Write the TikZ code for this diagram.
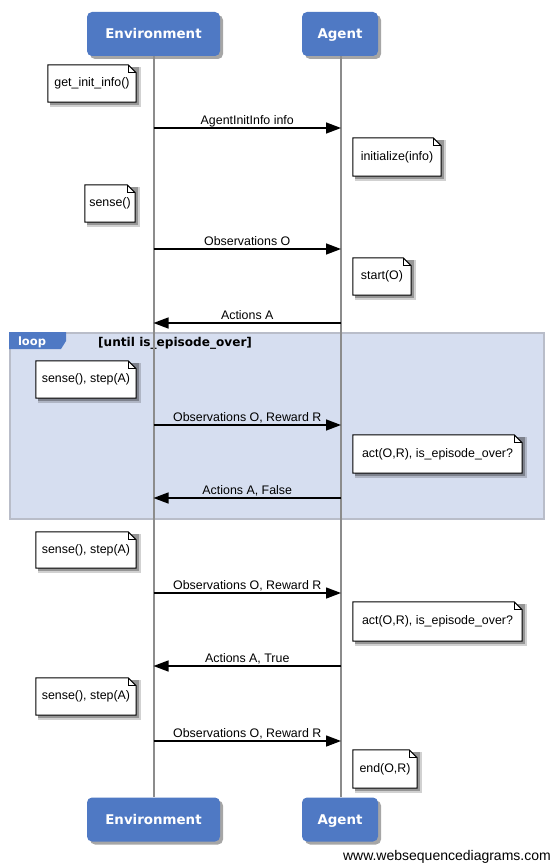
\documentclass[tikz,border=0pt]{standalone}
\usepackage{fontspec}
\setmainfont{Liberation Sans}
\newfontfamily\actorfont{DejaVu Sans}
\usetikzlibrary{arrows.meta,shadows}
\definecolor{actorblue}{HTML}{4F79C4}
\definecolor{loopfill}{HTML}{D6DEF0}
\definecolor{loopline}{HTML}{B9BDC9}
\definecolor{lifegray}{HTML}{8C8C8C}
\pgfdeclarelayer{frame}
\pgfdeclarelayer{shade}
\pgfdeclarelayer{paper}
\pgfsetlayers{frame,shade,paper,main}
\newcommand{\wsdnote}[6]{%
  \node[notebox, minimum width={#4-#2}, minimum height={#5-#3}] (#1) at ({(#2+#4)/2},{(#3+#5)/2}) {#6};
  \begin{pgfonlayer}{shade}
  \fill[black, opacity=0.18] ([xshift=2pt,yshift=-2pt]#1.north west) rectangle ([xshift=4.5pt,yshift=-4.5pt]#1.south east);
  \fill[black, opacity=0.28] ([xshift=2pt,yshift=-2pt]#1.north west) rectangle ([xshift=3pt,yshift=-3pt]#1.south east);
  \end{pgfonlayer}
  \begin{pgfonlayer}{paper}
  \draw[line width=1pt, fill=white] (#1.north west) -- ([xshift=-8pt]#1.north east) -- ([yshift=-8pt]#1.north east) -- (#1.south east) -- (#1.south west) -- cycle;
  \draw[line width=0.8pt] ([xshift=-8pt]#1.north east) -- ([xshift=-8pt,yshift=-8pt]#1.north east) -- ([yshift=-8pt]#1.north east);
  \end{pgfonlayer}
}
\begin{document}
\begin{tikzpicture}[x=1pt,y=-1pt,
  actor/.style={fill=actorblue, rounded corners=5pt, text=white,
    font=\actorfont\bfseries\fontsize{13.4}{15}\selectfont, minimum height=44pt, inner sep=0pt,
    text height=10pt, text depth=0pt,
    drop shadow={shadow xshift=3pt, shadow yshift=-3pt, opacity=0.35, fill=black}},
  notebox/.style={inner sep=0pt, font=\fontsize{12.4}{14}\selectfont},
  msg/.style={line width=1.4pt, -{Triangle[length=15pt,width=11pt]}},
  lbl/.style={anchor=base, yshift=3.5pt, inner sep=0pt, font=\fontsize{12.4}{14}\selectfont},
  life/.style={draw=lifegray, line width=2pt}]
\useasboundingbox (0,0) rectangle (553,864);

% loop frame
\begin{pgfonlayer}{frame}
\fill[white] (0,0) rectangle (553,864);
\node[draw=loopline, fill=loopfill, line width=2pt, minimum width=534pt, minimum height=186pt, inner sep=0pt] (loop) at (277,426) {};
\fill[actorblue] (loop.north west) -- ++(57,0) -- ++(0,9) -- ++(-5,8) -- ++(-52,0) -- cycle;
\end{pgfonlayer}
\node[text=white, font=\actorfont\bfseries\fontsize{11.5}{13}\selectfont, inner sep=0pt] (looplbl) at (32,342.5) {loop};
\node[font=\actorfont\bfseries\fontsize{12.1}{14}\selectfont, inner sep=0pt, anchor=west] (cond) at (98,343) {[until is\_episode\_over]};

% actors
\node[actor, minimum width=133pt] (envtop) at (153.5,34) {Environment};
\node[actor, minimum width=76pt] (agtop) at (340,34) {Agent};
\node[actor, minimum width=133pt] (envbot) at (153.5,819.5) {Environment};
\node[actor, minimum width=76pt] (agbot) at (340,819.5) {Agent};

% lifelines
\draw[life] (envtop.south) -- (envbot.north);
\draw[life] (agtop.south -| 341,0) -- (agbot.north -| 341,0);

% coordinates on lifelines
\foreach \n/\y in {1/128,2/249,3/323,4/425,5/498,6/593,7/666,8/741}{
  \coordinate (e\n) at (153.5,\y);
  \coordinate (a\n) at (341,\y);
}

% notes and messages
\wsdnote{n1}{48}{65}{136}{102}{get\_init\_info()}
\draw[msg] (e1) -- node[lbl]{AgentInitInfo info} (a1);
\wsdnote{n2}{353}{138}{441}{176}{initialize(info)}
\wsdnote{n3}{85}{185}{135}{222}{sense()}
\draw[msg] (e2) -- node[lbl]{Observations O} (a2);
\wsdnote{n4}{353}{258}{411}{295}{start(O)}
\draw[msg] (a3) -- node[lbl]{Actions A} (e3);

\wsdnote{n5}{36}{361}{136}{398}{sense(), step(A)}
\draw[msg] (e4) -- node[lbl]{Observations O, Reward R} (a4);
\wsdnote{n6}{353}{435}{522}{473}{act(O,R), is\_episode\_over?}
\draw[msg] (a5) -- node[lbl]{Actions A, False} (e5);

\wsdnote{n7}{36}{532}{136}{568}{sense(), step(A)}
\draw[msg] (e6) -- node[lbl]{Observations O, Reward R} (a6);
\wsdnote{n8}{353}{602}{522}{641}{act(O,R), is\_episode\_over?}
\draw[msg] (a7) -- node[lbl]{Actions A, True} (e7);

\wsdnote{n9}{36}{678}{136}{715}{sense(), step(A)}
\draw[msg] (e8) -- node[lbl]{Observations O, Reward R} (a8);
\wsdnote{n10}{353}{750}{417}{788}{end(O,R)}

\node[anchor=east, inner sep=0pt, font=\fontsize{14}{16}\selectfont] (footer) at (551,857) {www.websequencediagrams.com};
\end{tikzpicture}
\end{document}
